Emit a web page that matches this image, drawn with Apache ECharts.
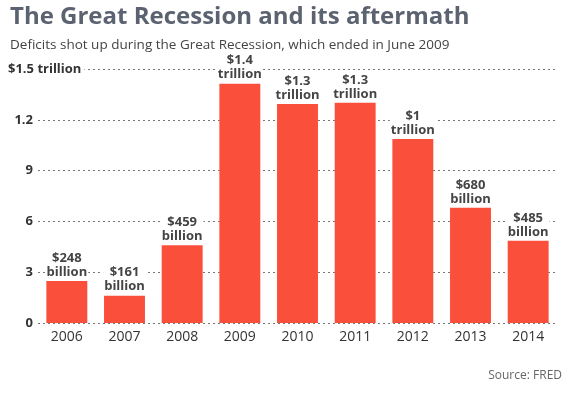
<!DOCTYPE html>
<html>
<head>
<meta charset="utf-8">
<script src="https://cdn.jsdelivr.net/npm/echarts@6/dist/echarts.min.js"></script>
<style>
  html, body { margin: 0; padding: 0; background: #fff; }
  #chart { width: 569px; height: 398px; }
</style>
</head>
<body>
<div id="chart"></div>
<script>
// 年份与赤字（万亿美元）
const years = ['2006', '2007', '2008', '2009', '2010', '2011', '2012', '2013', '2014'];
const deficits = [0.248, 0.161, 0.459, 1.413, 1.294, 1.300, 1.087, 0.680, 0.485];
const barLabels = ['$248\nbillion', '$161\nbillion', '$459\nbillion', '$1.4\ntrillion', '$1.3\ntrillion',
    '$1.3\ntrillion', '$1\ntrillion', '$680\nbillion', '$485\nbillion'];
const yTickLabels = ['0', '3', '6', '9', '1.2', '$1.5 trillion'];

const chart = echarts.init(document.getElementById('chart'));
const font = '"Open Sans", sans-serif';

chart.setOption({
    animation: false,
    title: [{
        text: 'The Great Recession and its aftermath',
        left: 10,
        top: 5,
        padding: 0,
        textStyle: { fontFamily: font, fontSize: 24, fontWeight: 'bold', color: '#5b6270' }
    }, {
        text: 'Deficits shot up during the Great Recession, which ended in June 2009',
        left: 10,
        top: 38,
        padding: 0,
        textStyle: { fontFamily: font, fontSize: 13.5, fontWeight: 'normal', color: '#444' }
    }, {
        text: 'Source: FRED',
        right: 7,
        top: 370,
        padding: 0,
        textStyle: { fontFamily: font, fontSize: 12, fontWeight: 'normal', color: '#666' }
    }],
    grid: { left: 38, right: 12, top: 69, bottom: 75, outerBoundsMode: 'none', containLabel: false },
    xAxis: {
        type: 'category',
        data: years,
        axisLine: { show: false },
        axisTick: { show: false },
        axisLabel: { fontFamily: font, fontSize: 14, color: '#333', margin: 7 }
    },
    yAxis: {
        type: 'value',
        min: 0,
        max: 1.5,
        interval: 0.3,
        axisLine: { show: false },
        axisTick: { show: false },
        splitLine: { lineStyle: { type: [2, 3], color: '#777', width: 1 } },
        axisLabel: {
            fontFamily: font, fontSize: 13, fontWeight: 'bold', color: '#333',
            margin: 30,
            align: 'left',
            formatter: function (v, i) {
                return i === yTickLabels.length - 1 ? '{t|' + yTickLabels[i] + '}' : '{n|' + yTickLabels[i] + '}';
            },
            rich: {
                n: { width: 25, align: 'right', fontFamily: font, fontSize: 13, fontWeight: 'bold', color: '#333' },
                t: { backgroundColor: '#fff', padding: [0, 3, 0, 0], fontFamily: font, fontSize: 13, fontWeight: 'bold', color: '#333' }
            }
        }
    },
    series: [{
        type: 'bar',
        data: deficits,
        barCategoryGap: '29%',
        itemStyle: { color: '#fa503b' },
        label: {
            show: true,
            position: 'top',
            distance: 2,
            fontFamily: font,
            fontSize: 13,
            fontWeight: 'bold',
            color: '#444',
            lineHeight: 14,
            backgroundColor: '#fff',
            padding: [0, 1],
            formatter: function (p) { return barLabels[p.dataIndex]; }
        }
    }]
});
</script>
</body>
</html>
